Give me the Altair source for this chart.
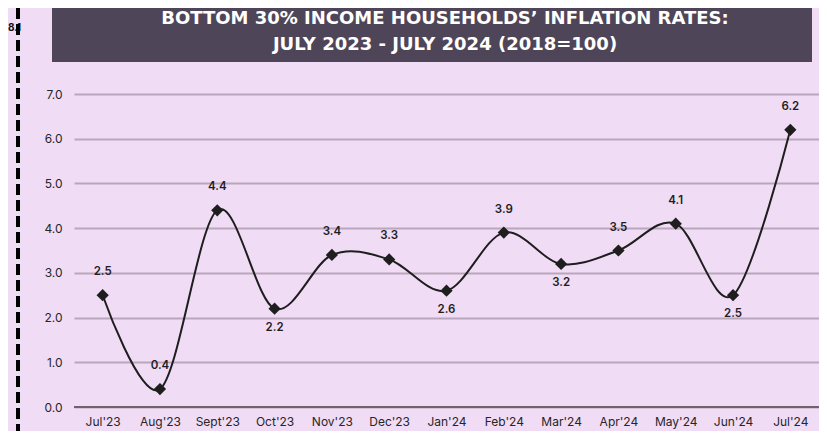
import altair as alt
import pandas as pd

months = ["Jul'23", "Aug'23", "Sept'23", "Oct'23", "Nov'23", "Dec'23", "Jan'24",
          "Feb'24", "Mar'24", "Apr'24", "May'24", "Jun'24", "Jul'24"]
rates = [2.5, 0.4, 4.4, 2.2, 3.4, 3.3, 2.6, 3.9, 3.2, 3.5, 4.1, 2.5, 6.2]
label_pos = ["above", "above", "above", "below", "above", "above", "below",
             "above", "below", "above", "above", "below", "above"]
y_ticks = [0, 1, 2, 3, 4, 5, 6, 7]
title_lines = ["BOTTOM 30% INCOME HOUSEHOLDS’ INFLATION RATES:",
               "JULY 2023 - JULY 2024 (2018=100)"]

df = pd.DataFrame({"month": months, "rate": rates, "pos": label_pos})

BG = "#F1DCF5"
INK = "#1E1E1E"
FONT = "Inter"

x_enc = alt.X("month:N", sort=months, title=None,
              axis=alt.Axis(labelAngle=0, ticks=False, domain=False,
                            labelPadding=9, labelFontSize=12, labelColor="#262626",
                            labelFont=FONT, grid=False))
y_enc = alt.Y("rate:Q", title=None,
              scale=alt.Scale(domain=[0, 7], nice=False),
              axis=alt.Axis(values=y_ticks, format=".1f", ticks=False, domain=False,
                            labelPadding=12, labelFontSize=12, labelColor="#262626",
                            labelFont=FONT, gridColor="#B9A5BC", gridWidth=2))

base = alt.Chart(df)

line = base.mark_line(color=INK, strokeWidth=2, interpolate="cardinal").encode(x=x_enc, y=y_enc)
points = base.mark_point(shape="diamond", filled=True, size=150, color=INK, opacity=1).encode(
    x=x_enc, y=y_enc)
lab_above = base.transform_filter(alt.datum.pos == "above").mark_text(
    dy=-23, fontSize=11.5, fontWeight=600, font=FONT, color=INK).encode(
    x=x_enc, y=y_enc, text=alt.Text("rate:Q", format=".1f"))
lab_below = base.transform_filter(alt.datum.pos == "below").mark_text(
    dy=19, fontSize=11.5, fontWeight=600, font=FONT, color=INK).encode(
    x=x_enc, y=y_enc, text=alt.Text("rate:Q", format=".1f"))

zero_rule = alt.Chart(alt.Data(values=[{"z": 0}])).mark_rule(
    color="#6E6272", strokeWidth=2).encode(y="z:Q")

one = alt.Data(values=[{}])
title_box = alt.Chart(one).mark_rect(color="#4F4558").encode(
    x=alt.value(-22), x2=alt.value(738), y=alt.value(-86), y2=alt.value(-32))
title_t1 = alt.Chart(one).mark_text(
    text=title_lines[0], color="white", fontSize=18, fontWeight="bold",
    font="DejaVu Sans", align="center", baseline="middle").encode(
    x=alt.value(371), y=alt.value(-75))
title_t2 = alt.Chart(one).mark_text(
    text=title_lines[1], color="white", fontSize=18, fontWeight="bold",
    font="DejaVu Sans", align="center", baseline="middle").encode(
    x=alt.value(371), y=alt.value(-49))

side_txt = alt.Chart(one).mark_text(
    text="8.1", color="#111111", fontSize=10, fontWeight="bold", font=FONT,
    align="left", baseline="middle").encode(x=alt.value(-66), y=alt.value(-66))
dash_rule = alt.Chart(one).mark_rule(
    color="black", strokeWidth=4, strokeDash=[11, 5]).encode(
    x=alt.value(-56), y=alt.value(-86), y2=alt.value(340))

chart = alt.layer(
    title_box, title_t1, title_t2, side_txt, dash_rule,
    line, zero_rule, points, lab_above, lab_below
).properties(
    width=745, height=313,
    autosize=alt.AutoSizeParams(type="none"),
    padding={"left": 66, "top": 86, "right": 0, "bottom": 24},
    background=BG,
).configure_view(stroke=None)

chart.save("out.html", embed_options={"renderer": "svg", "actions": False})
